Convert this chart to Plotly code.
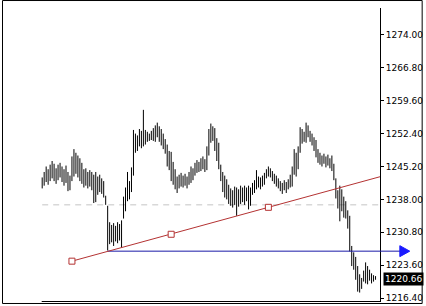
import plotly.graph_objects as go

# ---------------- data ----------------
highs = [
    1242.8, 1244.0, 1245.2, 1244.6, 1245.6, 1246.4, 1245.8, 1244.8, 1245.6, 1246.0,
    1245.2, 1244.6, 1245.4, 1244.0, 1243.2, 1247.4, 1249.0, 1248.2, 1247.6, 1247.0,
    1246.0, 1244.6, 1244.8, 1244.0, 1244.4, 1244.0, 1243.4, 1244.0, 1243.0, 1243.4,
    1242.6, 1242.0, 1238.8, 1236.6, 1233.0, 1232.4, 1232.8, 1232.2, 1233.0, 1232.6,
    1233.4, 1238.6, 1240.6, 1244.0, 1242.0, 1245.0, 1253.2, 1252.4, 1252.0, 1253.4,
    1253.0, 1257.6, 1253.2, 1252.8, 1252.4, 1253.0, 1253.6, 1254.2, 1254.8, 1254.0,
    1253.4, 1252.4, 1251.2, 1250.0, 1248.6, 1248.4, 1246.2, 1244.6, 1243.0, 1243.4,
    1243.8, 1243.2, 1243.6, 1243.0, 1244.0, 1245.2, 1244.8, 1246.0, 1246.6, 1246.2,
    1247.0, 1247.4, 1246.8, 1249.6, 1253.4, 1254.6, 1254.0, 1253.6, 1251.4, 1250.4,
    1245.6, 1244.0, 1243.2, 1242.4, 1241.2, 1240.4, 1240.0, 1240.8, 1240.6, 1240.2,
    1241.0, 1240.6, 1241.0, 1240.6, 1241.0, 1240.6, 1241.6, 1242.2, 1244.4, 1243.0,
    1242.8, 1243.2, 1243.8, 1244.6, 1245.2, 1244.8, 1244.2, 1243.6, 1243.2, 1242.6,
    1242.0, 1241.6, 1242.2, 1241.8, 1242.4, 1243.4, 1245.2, 1249.0, 1248.2, 1249.6,
    1253.8, 1253.4, 1252.8, 1254.8, 1254.2, 1253.0, 1252.4, 1251.6, 1251.0, 1249.0,
    1248.2, 1247.6, 1248.0, 1247.4, 1247.8, 1247.0, 1247.6, 1245.8, 1242.6, 1240.0,
    1241.0, 1240.2, 1238.6, 1237.6, 1235.6, 1234.4, 1227.8, 1226.4, 1225.4, 1223.4,
    1221.6, 1220.8, 1222.4, 1224.2, 1223.4, 1222.6, 1221.8, 1221.4, 1221.2,
]
lows = [
    1240.4, 1241.0, 1241.8, 1241.2, 1242.0, 1242.6, 1242.0, 1241.4, 1242.2, 1242.8,
    1241.8, 1241.0, 1241.6, 1239.8, 1240.0, 1242.0, 1243.0, 1243.6, 1242.8, 1242.0,
    1241.4, 1240.6, 1241.0, 1240.4, 1240.8, 1240.0, 1237.2, 1237.4, 1239.0, 1239.6,
    1239.2, 1238.4, 1236.8, 1226.8, 1228.2, 1228.6, 1227.8, 1228.8, 1228.4, 1229.0,
    1227.4, 1233.8, 1235.4, 1237.6, 1238.0, 1239.6, 1243.2, 1248.2, 1248.6, 1249.6,
    1249.2, 1249.6, 1250.0, 1250.6, 1250.8, 1251.0, 1250.8, 1250.6, 1251.6, 1250.6,
    1249.8, 1249.0, 1248.0, 1245.2, 1244.4, 1242.0, 1241.2, 1240.2, 1239.4, 1240.4,
    1240.8, 1240.6, 1241.0, 1240.4, 1241.2, 1241.6, 1242.2, 1243.2, 1243.8, 1244.0,
    1244.2, 1244.6, 1244.0, 1244.4, 1247.6, 1250.4, 1250.8, 1248.6, 1246.4, 1244.6,
    1242.0, 1239.6, 1238.4, 1238.0, 1237.0, 1236.6, 1236.2, 1236.8, 1234.4, 1236.4,
    1237.0, 1237.4, 1236.8, 1237.6, 1235.8, 1236.6, 1239.0, 1239.4, 1240.2, 1240.6,
    1240.2, 1240.8, 1241.2, 1242.6, 1243.0, 1242.8, 1242.0, 1241.4, 1240.8, 1240.4,
    1239.8, 1239.2, 1240.0, 1239.4, 1240.2, 1240.6, 1240.8, 1243.4, 1243.0, 1244.6,
    1248.2, 1250.2, 1250.6, 1250.4, 1251.6, 1250.6, 1249.8, 1248.6, 1247.2, 1246.0,
    1245.6, 1245.2, 1245.8, 1245.0, 1245.4, 1244.8, 1244.2, 1242.2, 1238.2, 1236.0,
    1233.2, 1235.4, 1234.0, 1233.8, 1231.6, 1226.6, 1223.4, 1222.6, 1220.4, 1217.8,
    1217.6, 1218.4, 1220.0, 1219.6, 1219.4, 1220.2, 1219.6, 1220.0, 1220.4,
]
bar_index = list(range(len(highs)))

tick_values = [1216.40, 1223.60, 1230.80, 1238.00, 1245.20, 1252.40, 1259.60, 1266.80, 1274.00]
tick_labels = [f"{v:.2f}" for v in tick_values]

last_price = 1220.66
hline_level = 1226.66
hline_start = 33
dash_level = 1236.8
dash_start = 0
trend_x = [15, 65, 114]
trend_y = [1224.47, 1230.36, 1236.26]

# ---------------- layout constants ----------------
W, H = 426, 306
ML, MR, MT, MB = 3, 43, 8, 3
X_RANGE = [-19.75, 170.25]
Y_RANGE = [1215.53, 1279.90]
PW = W - ML - MR
PH = H - MT - MB

FONT = "DejaVu Sans"

# bars as vertical high-low segments
bx, by = [], []
for i, h, l in zip(bar_index, highs, lows):
    bx += [i, i, None]
    by += [l, h, None]

slope = (trend_y[-1] - trend_y[0]) / (trend_x[-1] - trend_x[0])
trend_end_x = X_RANGE[1]
trend_end_y = trend_y[0] + slope * (trend_end_x - trend_x[0])

fig = go.Figure()

# dashed horizontal level
fig.add_trace(go.Scatter(
    x=[dash_start, X_RANGE[1]], y=[dash_level, dash_level], mode="lines",
    line=dict(color="#c4c4c4", width=1, dash="6px,5px"), hoverinfo="skip"))

# price bars
fig.add_trace(go.Scatter(
    x=bx, y=by, mode="lines", line=dict(color="black", width=1),
    hoverinfo="skip"))

# blue horizontal line
fig.add_trace(go.Scatter(
    x=[hline_start, X_RANGE[1]], y=[hline_level, hline_level], mode="lines",
    line=dict(color="#1a1aa8", width=1), hoverinfo="skip"))

# red trend line
fig.add_trace(go.Scatter(
    x=[trend_x[0], trend_end_x], y=[trend_y[0], trend_end_y], mode="lines",
    line=dict(color="#b43232", width=1), hoverinfo="skip"))
fig.add_trace(go.Scatter(
    x=trend_x, y=trend_y, mode="markers",
    marker=dict(symbol="square", size=6, color="white",
                line=dict(color="#b43232", width=1)),
    hoverinfo="skip"))


def px_x(p):
    return (p - ML) / PW


def px_y(p):
    return (H - MB - p) / PH


yfrac = (hline_level - Y_RANGE[0]) / (Y_RANGE[1] - Y_RANGE[0])
tri_h = 5.5 / PH

shapes = [
    # outer frame
    dict(type="rect", xref="paper", yref="paper",
         x0=px_x(2.5), x1=px_x(425.5), y0=px_y(304.5), y1=px_y(0.5),
         line=dict(color="black", width=1)),
    # bottom line of chart area
    dict(type="line", xref="paper", yref="paper",
         x0=px_x(42), x1=1, y0=px_y(302.5), y1=px_y(302.5),
         line=dict(color="black", width=1)),
    # blue line beyond the axis
    dict(type="line", xref="paper", yref="paper",
         x0=1, x1=px_x(404), y0=yfrac, y1=yfrac,
         line=dict(color="#1a1aa8", width=1)),
    # arrow head
    dict(type="path", xref="paper", yref="paper",
         path=f"M {px_x(403)} {yfrac + tri_h} L {px_x(413)} {yfrac} L {px_x(403)} {yfrac - tri_h} Z",
         fillcolor="#1a1aff", line=dict(color="#1a1aff", width=1)),
]

fig.update_layout(
    width=W, height=H,
    margin=dict(l=ML, r=MR, t=MT, b=MB, pad=0),
    paper_bgcolor="white", plot_bgcolor="white",
    showlegend=False,
    xaxis=dict(range=X_RANGE, visible=False, fixedrange=True),
    yaxis=dict(range=Y_RANGE, side="right", tickvals=tick_values, ticktext=tick_labels,
               ticks="outside", ticklen=3, tickcolor="black", tickwidth=1,
               showline=True, linecolor="black", linewidth=1,
               showgrid=False, zeroline=False,
               tickfont=dict(family=FONT, size=9, color="black"), fixedrange=True),
    shapes=shapes,
    annotations=[dict(
        xref="paper", yref="y", x=1, y=last_price, xanchor="left", yanchor="middle",
        xshift=3, text=f"{last_price:.2f}", showarrow=False,
        bgcolor="black", borderpad=1,
        font=dict(family=FONT, size=9, color="white"))],
)

fig.write_html("out.html")
